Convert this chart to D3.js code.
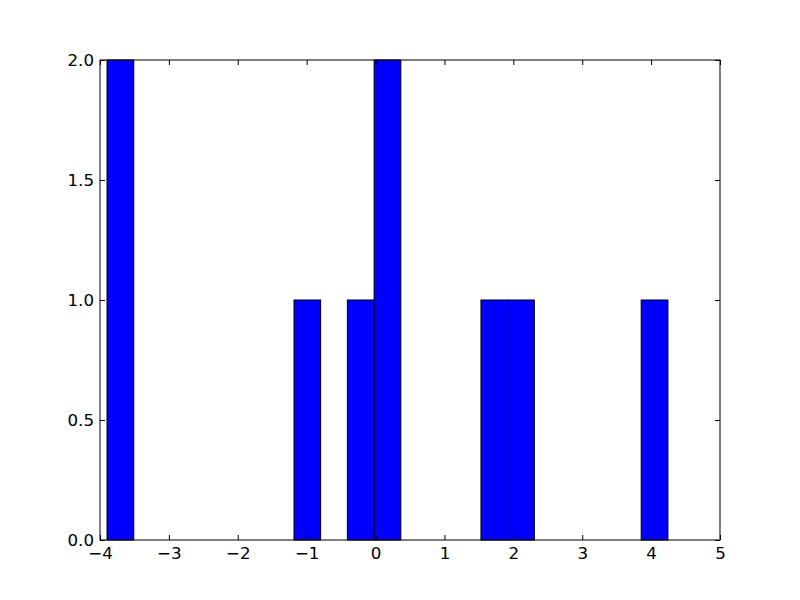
<!DOCTYPE html>
<html><head><meta charset="utf-8">
<script src="https://cdn.jsdelivr.net/npm/d3@7"></script>
<style>body{margin:0;background:#fff}svg{display:block}</style>
</head><body>
<script>
const binLeft  = [-3.898, -1.184, -0.409, -0.021, 1.530, 1.917, 3.856];
const binRight = [-3.510, -0.797, -0.021,  0.367, 1.917, 2.305, 4.244];
const counts   = [2, 1, 1, 2, 1, 1, 1];
const xTicks = [-4, -3, -2, -1, 0, 1, 2, 3, 4, 5];
const yTicks = [0, 0.5, 1.0, 1.5, 2.0];

const W = 800, H = 600, L = 100, R = 720, T = 60, B = 540;
const svg = d3.select("body").append("svg").attr("width", W).attr("height", H);
const x = d3.scaleLinear().domain([-4, 5]).range([L, R]);
const y = d3.scaleLinear().domain([0, 2]).range([B, T]);

svg.append("g").selectAll("rect").data(counts).join("rect")
  .attr("x", (d, i) => x(binLeft[i]))
  .attr("y", d => y(d))
  .attr("width", (d, i) => x(binRight[i]) - x(binLeft[i]))
  .attr("height", d => y(0) - y(d))
  .attr("fill", "#0000ff").attr("stroke", "#000").attr("stroke-width", 1);

const fmtX = d => String(d).replace("-", "\u2212");
const fmtY = d => d3.format(".1f")(d);

function style(g) {
  g.attr("font-family", "DejaVu Sans").attr("font-size", 16.67);
  g.select(".domain").remove();
  g.selectAll("line").attr("stroke", "#000");
  g.selectAll("text").attr("fill", "#000").style("font-size", "16.67px").style("font-family", "DejaVu Sans");
}
svg.append("g").attr("transform", `translate(0,${B})`)
  .call(d3.axisBottom(x).tickValues(xTicks).tickFormat(fmtX).tickSizeInner(-5).tickSizeOuter(0).tickPadding(7))
  .call(style);
svg.append("g").attr("transform", `translate(0,${T})`)
  .call(d3.axisTop(x).tickValues(xTicks).tickFormat("").tickSizeInner(-5).tickSizeOuter(0))
  .call(style);
svg.append("g").attr("transform", `translate(${L},0)`)
  .call(d3.axisLeft(y).tickValues(yTicks).tickFormat(fmtY).tickSizeInner(-5).tickSizeOuter(0).tickPadding(6))
  .call(style);
svg.append("g").attr("transform", `translate(${R},0)`)
  .call(d3.axisRight(y).tickValues(yTicks).tickFormat("").tickSizeInner(-5).tickSizeOuter(0))
  .call(style);

svg.append("rect").attr("x", L).attr("y", T).attr("width", R - L).attr("height", B - T)
  .attr("fill", "none").attr("stroke", "#000").attr("stroke-width", 1);
</script>
</body></html>
